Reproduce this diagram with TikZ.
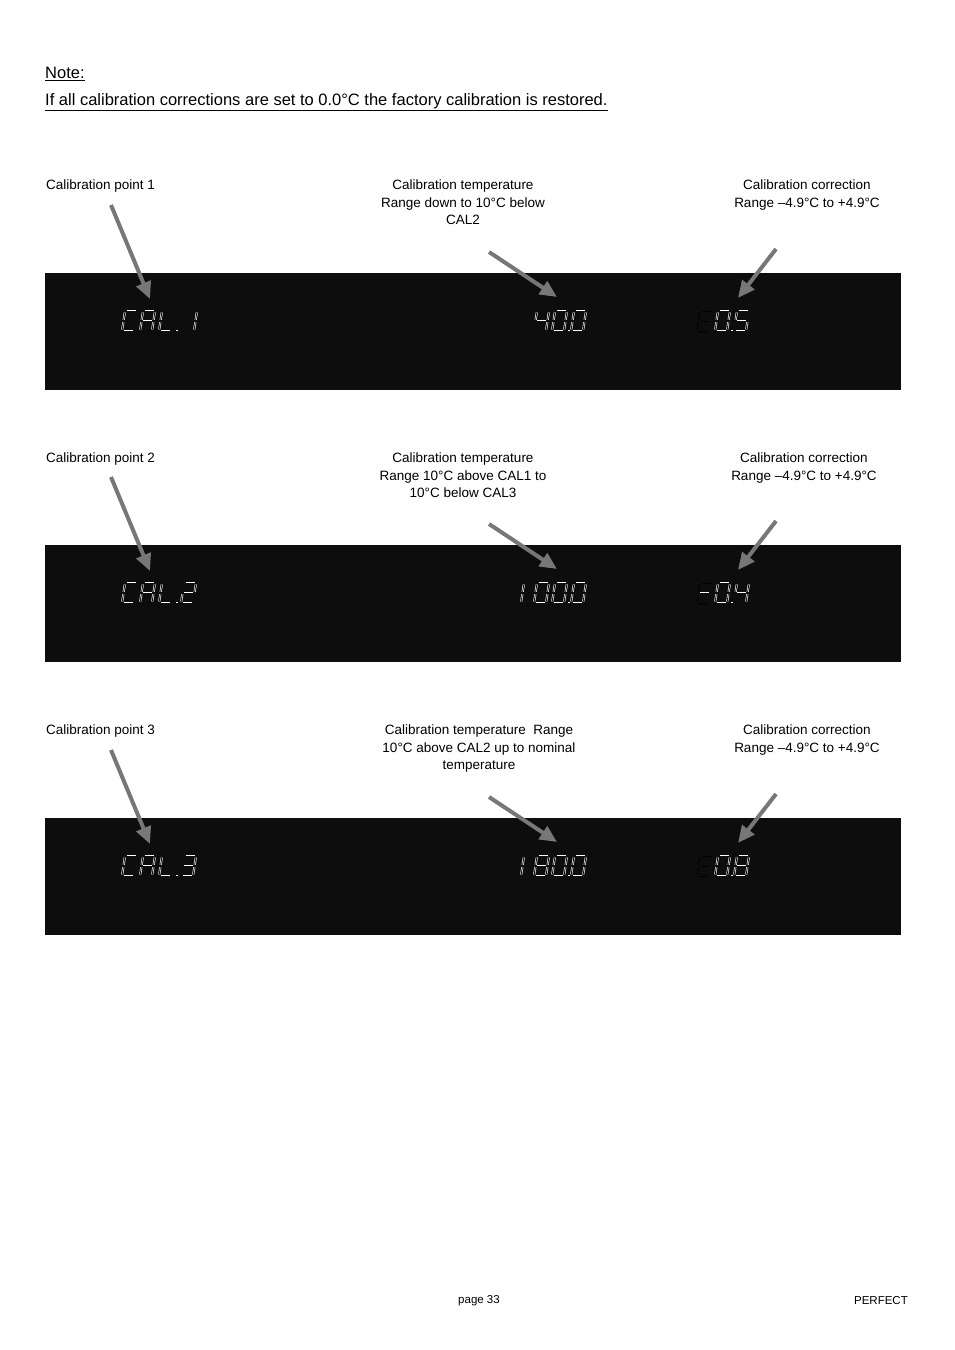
\documentclass[tikz,border=0pt]{standalone}
\usepackage{fontspec}
\setmainfont{Liberation Sans}
\usetikzlibrary{arrows.meta}
\definecolor{panel}{HTML}{0D0D0D}
\definecolor{arr}{HTML}{777777}
\tikzset{seg/.style={draw=white,double=panel,double distance=0.9pt,line width=0.6pt},
 panelbox/.style={fill=panel,draw=none},
 lab/.style={align=center,font=\fontsize{13.5}{17.5}\selectfont,inner sep=0},
 garrow/.style={arr,line width=4pt,-{Triangle[width=15pt,length=17pt]}}}
\def\sga{\draw[seg] (1.5,0)--(10.5,0);}
\def\sgb{\draw[seg] (12,1.5)--(12,8.8);}
\def\sgc{\draw[seg] (12,11.2)--(12,18.5);}
\def\sgd{\draw[seg] (1.5,20)--(10.5,20);}
\def\sge{\draw[seg] (0,11.2)--(0,18.5);}
\def\sgf{\draw[seg] (0,1.5)--(0,8.8);}
\def\sgg{\draw[seg] (1.5,10)--(10.5,10);}
\newcommand\sevseg[3]{\begin{scope}[shift={(#1,#2)},xslant=0.15]\foreach \s in {#3}{\csname sg\s\endcsname}\end{scope}}
\newcommand\sevdark[3]{\begin{scope}[shift={(#1,#2)},xslant=0.15]\tikzset{seg/.style={draw=black,line width=0.9pt}}\foreach \s in {#3}{\csname sg\s\endcsname}\end{scope}}
\newcommand\dpt[2]{\fill[white] (#1,#2+18.5) rectangle ++(1.8,1.8);}
\begin{document}
\begin{tikzpicture}[x=1pt,y=-1pt]
\useasboundingbox (0,0) rectangle (954,1350);
\fill[white] (0,0) rectangle (954,1350);
\node[anchor=north west,align=left,inner sep=0,font=\fontsize{16.5}{27}\selectfont] (note) at (45,67)
 {\underline{Note:}\\\underline{If all calibration corrections are set to 0.0°C the factory calibration is restored.}};
% panels
\foreach \y/\n in {273/1,545/2,818/3}{\fill[panelbox] (45,\y) rectangle (901,\y+117);}
% labels
\foreach \y/\n in {180/1,453/2,725/3}{\node[lab,anchor=north west] (lp\n) at (46,\y) {Calibration point \n};}
\node[lab,anchor=north] (lt1) at (463,180) {Calibration temperature\\Range down to 10°C below\\CAL2};
\node[lab,anchor=north] (lt2) at (463,453) {Calibration temperature\\Range 10°C above CAL1 to\\10°C below CAL3};
\node[lab,anchor=north] (lt3) at (479,725) {Calibration temperature\ \ Range\\10°C above CAL2 up to nominal\\temperature};
\node[lab,anchor=north] (lc1) at (807,180) {Calibration correction\\Range –4.9°C to +4.9°C};
\node[lab,anchor=north] (lc2) at (804,453) {Calibration correction\\Range –4.9°C to +4.9°C};
\node[lab,anchor=north] (lc3) at (807,725) {Calibration correction\\Range –4.9°C to +4.9°C};
% arrows
\foreach \d/\n in {0/1,272/2,545/3}{
 \coordinate (a\n s) at (111,205+\d); \coordinate (a\n e) at (150,299+\d);
 \coordinate (b\n s) at (489,252+\d); \coordinate (b\n e) at (557,297+\d);
 \coordinate (c\n s) at (776,249+\d); \coordinate (c\n e) at (738,298+\d);
 \draw[garrow] (a\n s) -- (a\n e);
 \draw[garrow] (b\n s) -- (b\n e);
 \draw[garrow] (c\n s) -- (c\n e);}
% row 1
\sevseg{125}{311}{a,d,e,f}\sevseg{143}{311}{a,b,c,e,f,g}\sevseg{162}{311}{d,e,f}\dpt{176}{311}\sevseg{185}{311}{b,c}
\sevseg{537}{311}{f,g,b,c}\sevseg{555}{311}{a,b,c,d,e,f}\dpt{568}{311}\sevseg{574}{311}{a,b,c,d,e,f}
\sevdark{700}{311}{a,d,e,f,g}\sevseg{718}{311}{a,b,c,d,e,f}\dpt{731}{311}\sevseg{737}{311}{a,f,g,c,d}
% row 2
\sevseg{125}{583}{a,d,e,f}\sevseg{143}{583}{a,b,c,e,f,g}\sevseg{162}{583}{d,e,f}\dpt{176}{583}\sevseg{184}{583}{a,b,g,e,d}
\sevseg{512}{583}{b,c}\sevseg{537}{583}{a,b,c,d,e,f}\sevseg{555}{583}{a,b,c,d,e,f}\dpt{568}{583}\sevseg{574}{583}{a,b,c,d,e,f}
\sevdark{700}{583}{a,d,e,f}\sevseg{700}{583}{g}\sevseg{718}{583}{a,b,c,d,e,f}\dpt{731}{583}\sevseg{737}{583}{f,g,b,c}
% row 3
\sevseg{125}{856}{a,d,e,f}\sevseg{143}{856}{a,b,c,e,f,g}\sevseg{162}{856}{d,e,f}\dpt{176}{856}\sevseg{184}{856}{a,b,g,c,d}
\sevseg{512}{856}{b,c}\sevseg{537}{856}{a,b,c,d,e,f,g}\sevseg{555}{856}{a,b,c,d,e,f}\dpt{568}{856}\sevseg{574}{856}{a,b,c,d,e,f}
\sevdark{700}{856}{a,d,e,f,g}\sevseg{718}{856}{a,b,c,d,e,f}\dpt{731}{856}\sevseg{737}{856}{a,b,c,d,e,f,g}
% footer
\node[font=\fontsize{11.5}{14}\selectfont,inner sep=0] (pg) at (479,1301) {page 33};
\node[font=\fontsize{11.5}{14}\selectfont,inner sep=0,anchor=east] (pf) at (908,1301) {PERFECT};
\end{tikzpicture}
\end{document}
